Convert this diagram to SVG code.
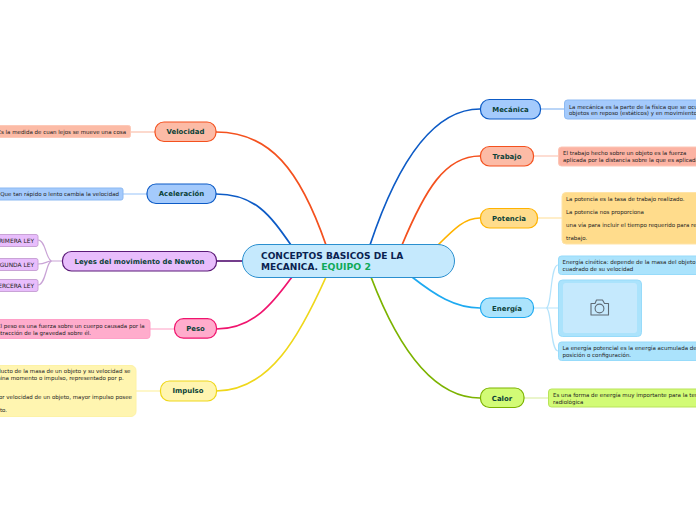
<svg xmlns="http://www.w3.org/2000/svg" width="696" height="520" viewBox="0 0 696 520">
<style>
text{font-family:"DejaVu Sans",Verdana,sans-serif}
.n{font-size:6.95px;font-weight:700;fill:#0b4238;text-anchor:middle}
.l{font-size:5.5px;fill:#222}
.e{text-anchor:end}
.u{font-size:5.9px}
.c path{fill:none}
.m{stroke-width:1.7}
.s{stroke-width:1.2}
.b{stroke-width:1.2}
</style>
<rect width="696" height="520" fill="#fff"/>
<g id="connectors" class="c">
<path class="m" d="M216 132C270 132 300 170 326 245" stroke="#f4511e"/>
<path class="m" d="M216 194C255 194 270 215 291 245" stroke="#0d5bc6"/>
<path class="m" d="M216 261H243" stroke="#5b1a78"/>
<path class="m" d="M216 329C255 329 275 300 292 277" stroke="#f0146e"/>
<path class="m" d="M216 391C270 391 300 335 326 277" stroke="#efd71a"/>
<path class="m" d="M370 245C395 170 430 109 480 109" stroke="#0d5bc6"/>
<path class="m" d="M402 245C425 190 445 156 480 156" stroke="#f4511e"/>
<path class="m" d="M438 245C455 228 465 218 480 218" stroke="#ffb300"/>
<path class="m" d="M412 277C435 295 455 308 480 308" stroke="#1eaaf1"/>
<path class="m" d="M371 277C395 340 430 398 480 398" stroke="#7cb300"/>
<path class="s" d="M130 132H155" stroke="#fbc0ac"/>
<path class="s" d="M123 194H147" stroke="#a8cdfb"/>
<path class="s" d="M62 261H52C46 261 46 240 38 240M52 261C46 261 46 264 38 264M52 261C46 261 46 285 38 285" stroke="#c9a3d6"/>
<path class="s" d="M150 329H174" stroke="#ffb0cf"/>
<path class="s" d="M136 391H160" stroke="#fdf2a6"/>
<path class="s" d="M540 109H565" stroke="#8cb9f2"/>
<path class="s" d="M534 156H558" stroke="#fcc6b6"/>
<path class="s" d="M538 218H562" stroke="#ffe3a6"/>
<path class="s" d="M534 308H546C552 308 550 265 558 265M546 308H558M546 308C552 308 550 351 558 351" stroke="#b5e3fb"/>
<path class="s" d="M524 398H548" stroke="#dcefa8"/>
</g>
<g id="central"><rect x="242.500" y="244.500" width="212" height="33" rx="16.500" fill="#c5e9fd" stroke="#2a8fcf" stroke-width="1"/>
<text x="261" y="259" font-size="9.050" font-weight="700" fill="#0a2250">CONCEPTOS BASICOS DE LA</text>
<text x="261" y="270" font-size="9.050" font-weight="700" fill="#0a2250">MECANICA. <tspan fill="#0fa958" font-size="9.300">EQUIPO 2</tspan></text></g>
<g id="velocidad"><rect x="155" y="122" width="61" height="19.500" rx="9" fill="#fcbba6" stroke="#f4511e" class="b"/><text class="n" x="185.500" y="134">Velocidad</text></g>
<g id="velocidad-d"><rect x="-10" y="125.500" width="140.500" height="12" rx="2" fill="#fcbba6" stroke="#fdc9b8"/><text class="l e" x="126" y="133.500">Es la medida de cuan lejos se mueve una cosa</text></g>
<g id="aceleracion"><rect x="147" y="184" width="69" height="19.500" rx="9" fill="#a4cafc" stroke="#0d5bc6" class="b"/><text class="n" x="181.500" y="196">Aceleración</text></g>
<g id="aceleracion-d"><rect x="-10" y="188" width="133" height="12" rx="2" fill="#a4cafc" stroke="#8cb9f2"/><text class="l e" x="119" y="196">Que tan rápido o lento cambia la velocidad</text></g>
<g id="leyes"><rect x="62.500" y="251.500" width="154" height="19.500" rx="9" fill="#e8bdfc" stroke="#5b1a78" class="b"/><text class="n" x="139.500" y="264">Leyes del movimiento de Newton</text></g>
<g id="ley1"><rect x="-10" y="234.500" width="48" height="12" rx="2" fill="#e8bdfc" stroke="#c9a3d6"/><text class="l e u" x="34" y="242.500">PRIMERA LEY</text></g>
<g id="ley2"><rect x="-10" y="258.500" width="48" height="12" rx="2" fill="#e8bdfc" stroke="#c9a3d6"/><text class="l e u" x="34" y="266.500">SEGUNDA LEY</text></g>
<g id="ley3"><rect x="-10" y="279.500" width="48" height="12" rx="2" fill="#e8bdfc" stroke="#c9a3d6"/><text class="l e u" x="34" y="287.500">TERCERA LEY</text></g>
<g id="peso"><rect x="174.500" y="318.700" width="42" height="19.500" rx="9" fill="#ffaccc" stroke="#f0146e" class="b"/><text class="n" x="195.500" y="331">Peso</text></g>
<g id="peso-d"><rect x="-10" y="319.500" width="160" height="19" rx="3" fill="#ffaccc" stroke="#ffa0c8"/><text class="l" x="-3" y="327.500">El peso es una fuerza sobre un cuerpo causada por la</text><text class="l" x="-3" y="334.500">atracción de la gravedad sobre él.</text></g>
<g id="impulso"><rect x="160.500" y="381" width="56" height="20" rx="9" fill="#fff5b0" stroke="#efd71a" class="b"/><text class="n" x="188" y="393">Impulso</text></g>
<g id="impulso-d"><rect x="-25" y="365.500" width="161" height="51" rx="5" fill="#fff5b0" stroke="#fdf2a6"/><text class="l" x="-18.500" y="372.700">El producto de la masa de un objeto y su velocidad se</text><text class="l" x="-18.500" y="380">denomina momento o impulso, representado por p.</text><text class="l" x="-18.500" y="399">A mayor velocidad de un objeto, mayor impulso posee</text><text class="l" x="-18.500" y="412">el objeto.</text></g>
<g id="mecanica"><rect x="480.500" y="99.500" width="60" height="19.500" rx="9" fill="#a4cafc" stroke="#0d5bc6" class="b"/><text class="n" x="510.500" y="111.700">Mecánica</text></g>
<g id="mecanica-d"><rect x="564.500" y="100" width="150" height="19" rx="3" fill="#a4cafc" stroke="#8cb9f2"/><text class="l" x="569" y="108.500">La mecánica es la parte de la física que se ocupa de</text><text class="l" x="569" y="115.200">objetos en reposo (estáticos) y en movimiento</text></g>
<g id="trabajo"><rect x="480.500" y="146.500" width="53" height="19.500" rx="9" fill="#fcbba6" stroke="#f4511e" class="b"/><text class="n" x="507" y="158.700">Trabajo</text></g>
<g id="trabajo-d"><rect x="558.500" y="147" width="150" height="19" rx="3" fill="#fcb3a3" stroke="#fcc6b6"/><text class="l" x="563" y="155">El trabajo hecho sobre un objeto es la fuerza</text><text class="l" x="563" y="162">aplicada por la distancia sobre la que es aplicada</text></g>
<g id="potencia"><rect x="480.500" y="208.500" width="57" height="19.500" rx="9" fill="#ffdc8c" stroke="#ffb300" class="b"/><text class="n" x="509" y="220.700">Potencia</text></g>
<g id="potencia-d"><rect x="562" y="192.500" width="150" height="51.500" rx="4" fill="#ffdc8c" stroke="#ffe3a6"/><text class="l" x="566" y="200.800">La potencia es la tasa de trabajo realizado.</text><text class="l" x="566" y="213.800">La potencia nos proporciona</text><text class="l" x="566" y="226.800">una vía para incluir el tiempo requerido para realizar</text><text class="l" x="566" y="239.800">trabajo.</text></g>
<g id="energia"><rect x="480.500" y="298" width="53" height="19.500" rx="9" fill="#abe3fc" stroke="#1eaaf1" class="b"/><text class="n" x="507" y="310.500">Energía</text></g>
<g id="energia-d1"><rect x="558.500" y="256" width="150" height="18.500" rx="3" fill="#abe3fc" stroke="#97dbfa"/><text class="l" x="562.500" y="263.500">Energía cinética: depende de la masa del objeto y del</text><text class="l" x="562.500" y="270.700">cuadrado de su velocidad</text></g>
<g id="energia-img"><rect x="558.500" y="280" width="83" height="56.500" rx="4" fill="#abe3fc" stroke="#97dbfa"/><rect x="563" y="283" width="74" height="50" rx="3" fill="#c5e9fd"/><g fill="none" stroke="#5f6b75" stroke-width="1.100"><path d="M591 303.500V315H608.500V303.500H604.500L602.500 300H596.500L595 303.500Z" stroke-linejoin="round"/><circle cx="599.500" cy="308.500" r="4.400"/></g></g>
<g id="energia-d2"><rect x="558.500" y="342" width="150" height="18.500" rx="3" fill="#abe3fc" stroke="#97dbfa"/><text class="l" x="562.500" y="349.500">La energía potencial es la energía acumulada debido a</text><text class="l" x="562.500" y="356.700">posición o configuración.</text></g>
<g id="calor"><rect x="480.500" y="388" width="43.500" height="19.500" rx="9" fill="#d2fb76" stroke="#7cb300" class="b"/><text class="n" x="502" y="400.500">Calor</text></g>
<g id="calor-d"><rect x="548.500" y="389" width="160" height="18" rx="3" fill="#d2fb76" stroke="#b9e35a"/><text class="l" x="553" y="396.500">Es una forma de energía muy importante para la terapia</text><text class="l" x="553" y="403.500">radiológica</text></g>
</svg>
